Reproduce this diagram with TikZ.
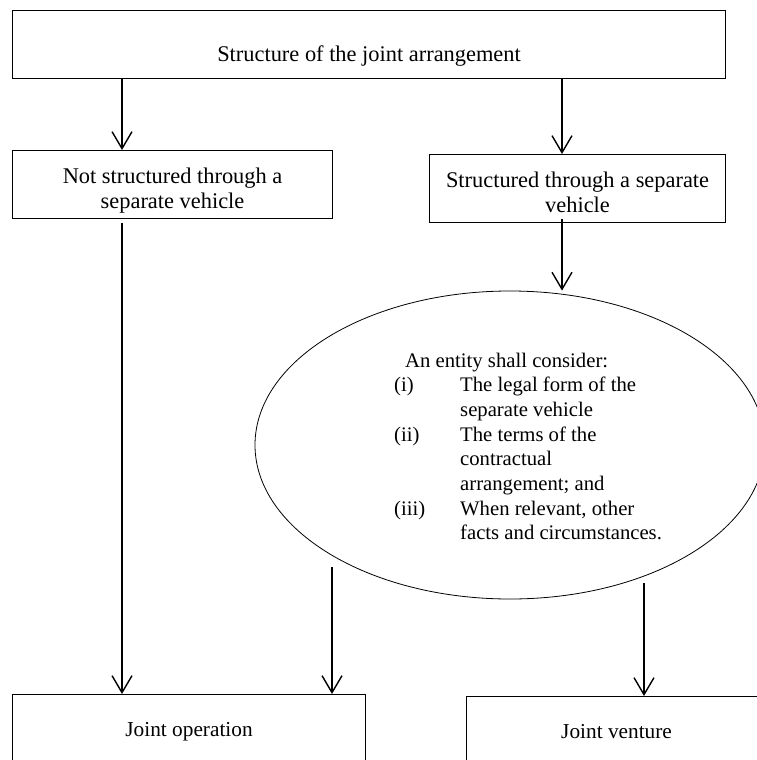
\documentclass[tikz,border=0pt]{standalone}
\usepackage{fontspec}
\setmainfont{Liberation Serif}
\usetikzlibrary{arrows.meta,shapes.geometric}

\tikzset{
  box/.style={draw, line width=1.1pt, rectangle, anchor=north west, inner sep=0pt, text height=33pt, text depth=35pt},
  endbox/.style={box, text height=42pt, text depth=34pt, font=\fontsize{21.3}{25}\selectfont},
  flow/.style={-{Straight Barb[length=17pt, width=20pt]}, line width=1.4pt},
}

\begin{document}
\begin{tikzpicture}[x=1pt, y=-1pt, every node/.style={font=\fontsize{22.4}{25}\selectfont}]
    \useasboundingbox (0,0) rectangle (757,760);
    \clip (0,0) rectangle (757,760);
    \node(arrangement) at (12,10) [box, minimum width=713pt, text height=51pt, text depth=17pt] {Structure of the joint arrangement};
    \node(notsep) at (12,150) [box, minimum width=320pt] {\begin{tabular}[t]{@{}c@{}}Not structured through a\\ separate vehicle\end{tabular}};
    \node(sepveh) at (429,154) [box, minimum width=296pt] {\begin{tabular}[t]{@{}c@{}}Structured through a separate\\ vehicle\end{tabular}};
    \node(consider) at (510,445) [draw, ellipse, line width=0.8pt, minimum width=510pt, minimum height=308pt, inner sep=0pt] {};
    \node(criteria) at (394,367) [anchor=base west, inner sep=0pt, font=\fontsize{20.7}{24.7}\selectfont] {\begin{tabular}[t]{@{}p{66pt}@{}l@{}}
      \multicolumn{2}{@{\hspace{11pt}}l@{}}{An entity shall consider:}\\
      (i) & The legal form of the\\
          & separate vehicle\\
      (ii) & The terms of the\\
           & contractual\\
           & arrangement; and\\
      (iii) & When relevant, other\\
            & facts and circumstances.
    \end{tabular}};
    \node(operation) at (12,694) [endbox, minimum width=353pt] {Joint operation};
    \node(venture) at (466,696) [endbox, minimum width=300pt] {Joint venture};
    % columns of the connectors
    \coordinate(lcol) at (122,0);
    \coordinate(rcol) at (562,0);
    \coordinate(mcol) at (332,0);
    \coordinate(vcol) at (644,0);
    \draw[flow] (lcol |- arrangement.south) -- (lcol |- notsep.north);
    \draw[flow] (rcol |- arrangement.south) -- (rcol |- sepveh.north);
    \draw[flow] ([yshift=-4pt]lcol |- notsep.south) -- (lcol |- operation.north);
    \draw[flow] ([yshift=4pt]rcol |- sepveh.south) -- (rcol |- consider.north);
    \draw[flow] ([yshift=32pt]mcol |- consider.south) -- (mcol |- operation.north);
    \draw[flow] ([yshift=16pt]vcol |- consider.south) -- (vcol |- venture.north);
  \end{tikzpicture}
\end{document}
